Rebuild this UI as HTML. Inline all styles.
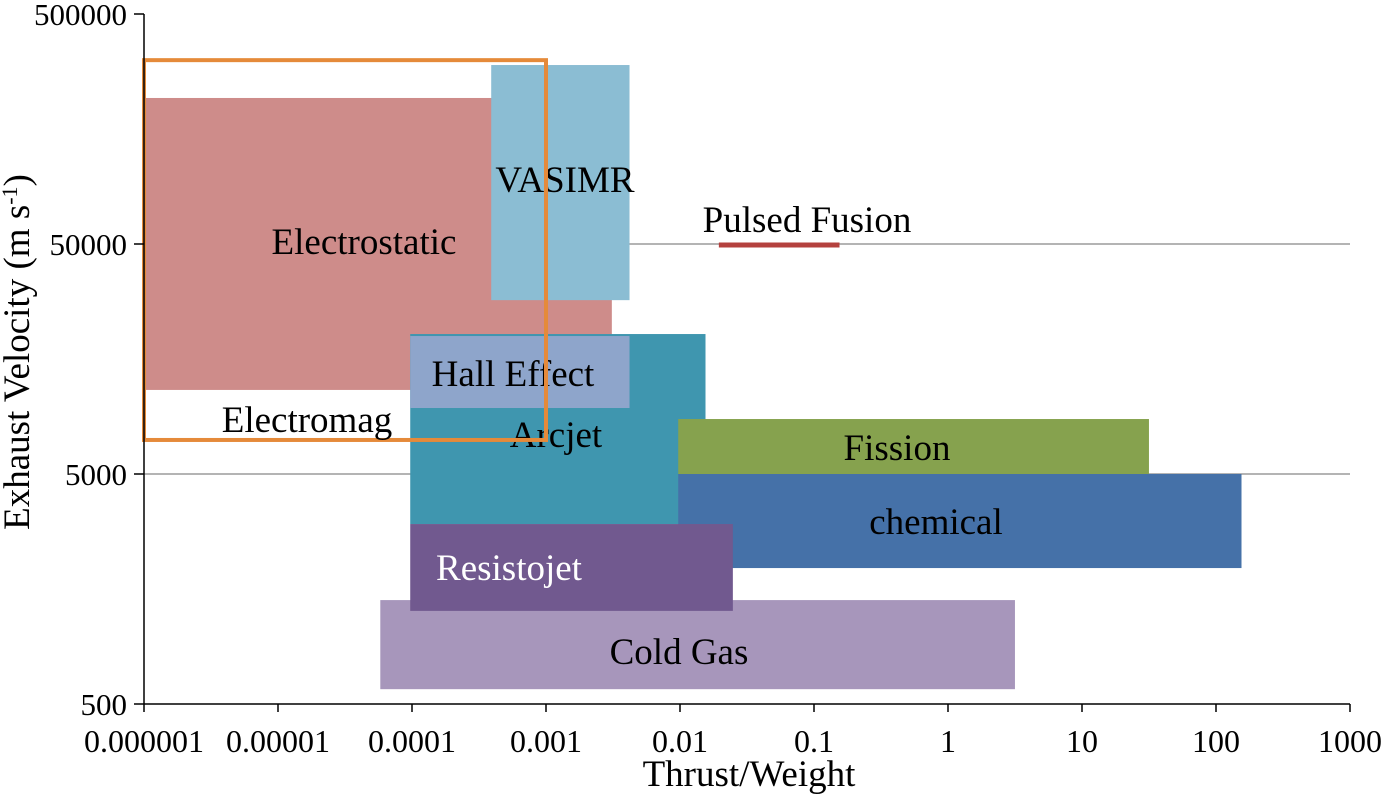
<!DOCTYPE html>
<html><head><meta charset="utf-8">
<style>
html,body{margin:0;padding:0;background:#fff;}
svg{display:block;font-family:"Liberation Serif","Times New Roman",serif;}
</style></head>
<body>
<svg id="chart" width="1382" height="802" viewBox="0 0 1382 802">
<g id="grid"></g>
<g id="rects"></g>
<g id="axes"></g>
<text x="749" y="786" font-size="37" text-anchor="middle">Thrust/Weight</text>
<text transform="translate(29,352) rotate(-90)" font-size="37" text-anchor="middle">Exhaust Velocity (m s<tspan font-size="22" dy="-12">-1</tspan><tspan dy="12">)</tspan></text>
</svg>
<script>
const xTicks=[1e-6,1e-5,1e-4,1e-3,1e-2,1e-1,1,10,100,1000];
const xTickLabels=["0.000001","0.00001","0.0001","0.001","0.01","0.1","1","10","100","1000"];
const yTicks=[500,5000,50000,500000];
const yTickLabels=["500","5000","50000","500000"];
const gridValues=[5000,50000];
const regionNames=["Electrostatic","VASIMR","Arcjet","Hall Effect","Fission","chemical","Cold Gas","Resistojet"];
const regionX0=[1e-6,3.9e-4,9.7e-5,9.7e-5,0.0097,0.0097,5.8e-5,9.7e-5];
const regionX1=[3.1e-3,4.2e-3,0.0155,4.2e-3,31.6,155,3.16,0.0248];
const regionY0=[11600,28500,3030,9680,5000,1950,580,1270];
const regionY1=[215700,300000,20300,19900,8670,5000,1415,3030];
const regionColors=["#ce8c8a","#8bbdd3","#3f96af","#8ea5cb","#86a24e","#4571a8","#a796bb","#71598f"];
const labelX=[364,565,556,513,897,936,679,509];
const labelY=[254,192,447,386,460,534,664,580];
const electromagX=[1e-6,1e-3];
const electromagY=[7030,315000];
const fusionX=[0.0195,0.155];
const fusionY=50000;

const X0=144,X1=1350,Y0=704,Y1=14;
const xs=v=>X0+(Math.log10(v)+6)/9*(X1-X0);
const ys=v=>Y0-(Math.log10(v)-Math.log10(500))/3*(Y0-Y1);
const NS="http://www.w3.org/2000/svg";
function mk(tag,attrs,parent){const e=document.createElementNS(NS,tag);for(const k in attrs)e.setAttribute(k,attrs[k]);parent.appendChild(e);return e;}
const grid=document.getElementById('grid'),rects=document.getElementById('rects'),axes=document.getElementById('axes');
gridValues.forEach(v=>{const l=mk('line',{x1:X0,x2:X1,y1:ys(v),y2:ys(v),stroke:'#888','stroke-width':1.3},grid);

});
regionNames.forEach((n,i)=>{
 const x=xs(regionX0[i]),w=xs(regionX1[i])-x,y=ys(regionY1[i]),h=ys(regionY0[i])-y;
 const r=mk('rect',{x:x,y:y,width:w,height:h,fill:regionColors[i]},rects);
 
 
});
regionNames.forEach((n,i)=>{
 const t=mk('text',{x:labelX[i],y:labelY[i],'font-size':37,'text-anchor':'middle',fill:n==='Resistojet'?'#fff':'#000'},rects);
 t.textContent=n;
 
 
});
const em=mk('rect',{x:xs(electromagX[0]),y:ys(electromagY[1]),width:xs(electromagX[1])-xs(electromagX[0]),height:ys(electromagY[0])-ys(electromagY[1]),fill:'none',stroke:'#e58a3a','stroke-width':4},rects);


const emt=mk('text',{x:307,y:432,'font-size':37,'text-anchor':'middle'},rects);emt.textContent='Electromag';


const fl=mk('line',{x1:xs(fusionX[0]),x2:xs(fusionX[1]),y1:ys(fusionY)+1,y2:ys(fusionY)+1,stroke:'#b4413e','stroke-width':5},rects);


const ft=mk('text',{x:807,y:232,'font-size':37,'text-anchor':'middle'},rects);ft.textContent='Pulsed Fusion';


const ax=mk('line',{x1:X0,x2:X1,y1:Y0,y2:Y0,stroke:'#000','stroke-width':1.5},axes);


const ay=mk('line',{x1:X0,x2:X0,y1:Y1,y2:Y0,stroke:'#000','stroke-width':1.5},axes);


xTicks.forEach((v,i)=>{
 const tk=mk('line',{x1:xs(v),x2:xs(v),y1:Y0,y2:Y0+8,stroke:'#000','stroke-width':1.5},axes);
 
 
 const t=mk('text',{x:xs(v),y:Y0+48,'font-size':32,'text-anchor':'middle'},axes);t.textContent=xTickLabels[i];
 
 
});
yTicks.forEach((v,i)=>{
 const tk=mk('line',{x1:X0-10,x2:X0,y1:ys(v),y2:ys(v),stroke:'#000','stroke-width':1.5},axes);
 
 
 const t=mk('text',{x:X0-17,y:ys(v)+11,'font-size':31,'text-anchor':'end'},axes);t.textContent=yTickLabels[i];
 
 
});
</script>
</body></html>
